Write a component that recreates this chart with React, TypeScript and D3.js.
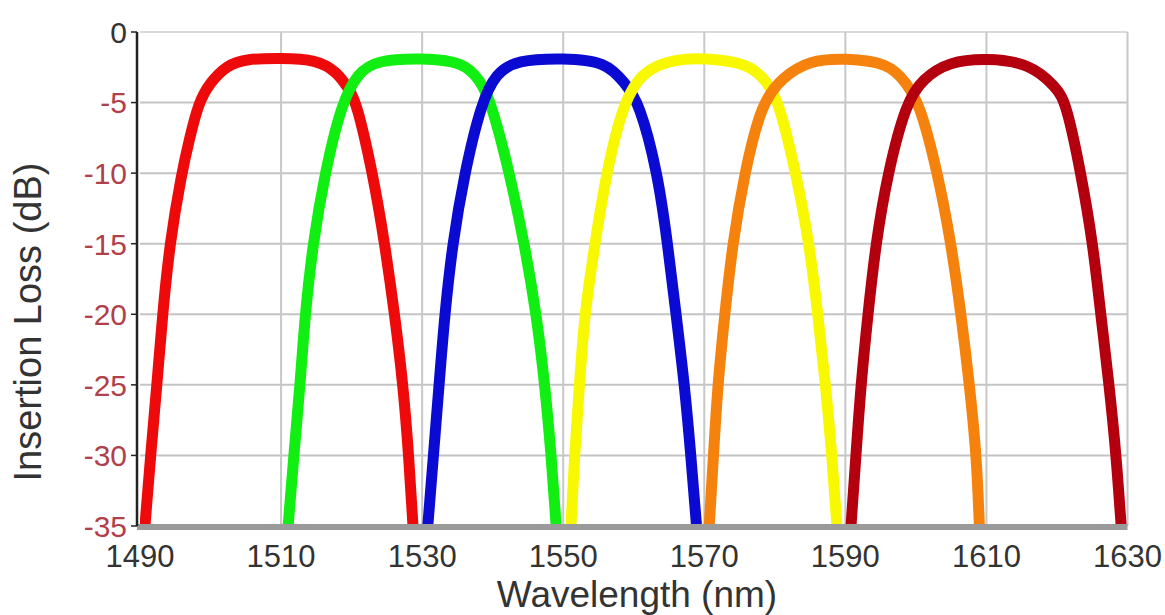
import * as d3 from "d3";
import React from "react";

// Insertion loss of six CWDM channels as [wavelength nm, loss dB]
const ch1510: [number, number][] = [
  [1490.7, -35], [1491.5, -30], [1492.4, -25], [1493.2, -20], [1494.2, -15],
  [1495.9, -10], [1497.0, -7.6], [1498.3, -5], [1499.9, -3.6], [1502.3, -2.35], [1505.1, -1.9],
  [1510, -1.85], [1515, -1.95], [1517.9, -2.8], [1519.7, -4.1], [1520.7, -5],
  [1523.0, -10], [1524.7, -15], [1526.1, -20], [1527.3, -25], [1528.1, -30], [1528.7, -35],
];
const ch1530: [number, number][] = [
  [1511.0, -35], [1511.8, -30], [1512.7, -25], [1513.4, -20], [1514.5, -15],
  [1516.2, -10], [1518.6, -5], [1520.9, -2.9], [1523.5, -2.0], [1530, -1.85],
  [1535.8, -2.1], [1538.2, -3.4], [1539.8, -5], [1542.4, -10], [1544.5, -15],
  [1546.2, -20], [1547.4, -25], [1548.3, -30], [1549.0, -35],
];
const ch1550: [number, number][] = [
  [1530.8, -35], [1531.6, -30], [1532.4, -25], [1533.2, -20], [1534.3, -15],
  [1536.0, -10], [1538.4, -5], [1540.5, -2.9], [1543.4, -2.0], [1550, -1.85],
  [1556.1, -2.1], [1558.7, -3.6], [1560.8, -5], [1563.4, -10], [1564.8, -15],
  [1566.0, -20], [1567.2, -25], [1568.1, -30], [1568.9, -35],
];
const ch1570: [number, number][] = [
  [1551.1, -35], [1551.6, -30], [1552.3, -25], [1553.0, -20], [1554.5, -15],
  [1556.1, -10], [1558.5, -5], [1561.3, -2.7], [1566.0, -1.9], [1570, -1.85],
  [1576.4, -2.2], [1579.0, -3.6], [1580.6, -5], [1583.0, -10], [1584.9, -15],
  [1586.1, -20], [1587.2, -25], [1588.1, -30], [1588.8, -35],
];
const ch1590: [number, number][] = [
  [1570.7, -35], [1571.3, -30], [1571.9, -25], [1572.9, -20], [1574.0, -15],
  [1575.7, -10], [1578.1, -5], [1581.1, -3.2], [1584.9, -2.0], [1590, -1.85],
  [1596.2, -2.2], [1598.6, -3.6], [1600.5, -5], [1603.1, -10], [1605.0, -15],
  [1606.4, -20], [1607.6, -25], [1608.6, -30], [1609.0, -35],
];
const ch1610: [number, number][] = [
  [1590.8, -35], [1591.5, -30], [1592.2, -25], [1593.2, -20], [1594.3, -15],
  [1596.0, -10], [1598.6, -5], [1601.0, -3.3], [1604.7, -2.1], [1610, -1.85],
  [1616.1, -2.2], [1619.9, -3.9], [1621.3, -5], [1623.4, -10], [1625.1, -15],
  [1626.2, -20], [1627.4, -25], [1628.4, -30], [1629.1, -35],
];

const channels = [ch1510, ch1530, ch1550, ch1570, ch1590, ch1610];
const channelColors = ["#ee0a0a", "#11ee11", "#0a0ad2", "#f8f800", "#f5820d", "#b4000e"];

const xTicks = [1490, 1510, 1530, 1550, 1570, 1590, 1610, 1630];
const yTicks = [0, -5, -10, -15, -20, -25, -30, -35];

const WIDTH = 1165;
const HEIGHT = 615;
const FONT = "'Liberation Sans', Arial, sans-serif";

export default function App() {
  const x = d3.scaleLinear().domain([1490, 1630]).range([140, 1127.5]);
  const y = d3.scaleLinear().domain([-35, 0]).range([526, 32]);

  const line = d3
    .line<[number, number]>()
    .x((d) => x(d[0]))
    .y((d) => y(d[1]))
    .curve(d3.curveBasis);

  const [x0, x1] = x.range();
  const [yBottom, yTop] = y.range();

  return (
    <svg
      width={WIDTH}
      height={HEIGHT}
      style={{ position: "absolute", left: 0, top: 0, background: "#fff" }}
      fontFamily={FONT}
    >
      <defs>
        <clipPath id="plot">
          <rect x={x0} y={yTop - 10} width={x1 - x0} height={yBottom - yTop + 10} />
        </clipPath>
      </defs>

      {/* horizontal grid */}
      {yTicks
        .filter((t) => t !== -35)
        .map((t) => (
          <line
            key={`gy${t}`}
            x1={x0}
            x2={x1}
            y1={y(t)}
            y2={y(t)}
            stroke={t === 0 ? "#dadada" : "#c4c4c4"}
            strokeWidth={2}
          />
        ))}

      {/* vertical grid */}
      {xTicks.slice(1).map((t) => (
        <line
          key={`gx${t}`}
          x1={x(t)}
          x2={x(t)}
          y1={yTop}
          y2={yBottom}
          stroke="#c8c8c8"
          strokeWidth={2}
        />
      ))}

      {/* filter curves */}
      <g clipPath="url(#plot)">
        {channels.map((d, i) => (
          <path
            key={i}
            d={line(d) || ""}
            fill="none"
            stroke={channelColors[i]}
            strokeWidth={11}
            strokeLinecap="butt"
            strokeLinejoin="round"
          />
        ))}
      </g>

      {/* bottom axis band */}
      <rect x={x0 - 3} y={yBottom - 2} width={x1 - x0 + 3} height={6} fill="#9a9a9a" />

      {/* left axis */}
      <line x1={137} x2={137} y1={yTop} y2={yBottom} stroke="#222" strokeWidth={2.5} />
      {yTicks.map((t) => (
        <line key={`ty${t}`} x1={131} x2={137} y1={y(t)} y2={y(t)} stroke="#222" strokeWidth={1.5} />
      ))}

      {/* y tick labels */}
      {yTicks.map((t) => (
        <text
          key={`ly${t}`}
          x={127}
          y={y(t)}
          dy="0.36em"
          textAnchor="end"
          fontSize={30}
          fill={t === 0 ? "#333" : "#b0404a"}
        >
          {t}
        </text>
      ))}

      {/* x tick labels */}
      {xTicks.map((t) => (
        <text key={`lx${t}`} x={x(t)} y={567} textAnchor="middle" fontSize={31} fill="#333">
          {t}
        </text>
      ))}

      {/* axis titles */}
      <text x={637} y={607} textAnchor="middle" fontSize={37} fill="#333">
        Wavelength (nm)
      </text>
      <text
        transform="translate(41,322) rotate(-90)"
        textAnchor="middle"
        fontSize={38}
        fill="#333"
      >
        Insertion Loss (dB)
      </text>
    </svg>
  );
}
